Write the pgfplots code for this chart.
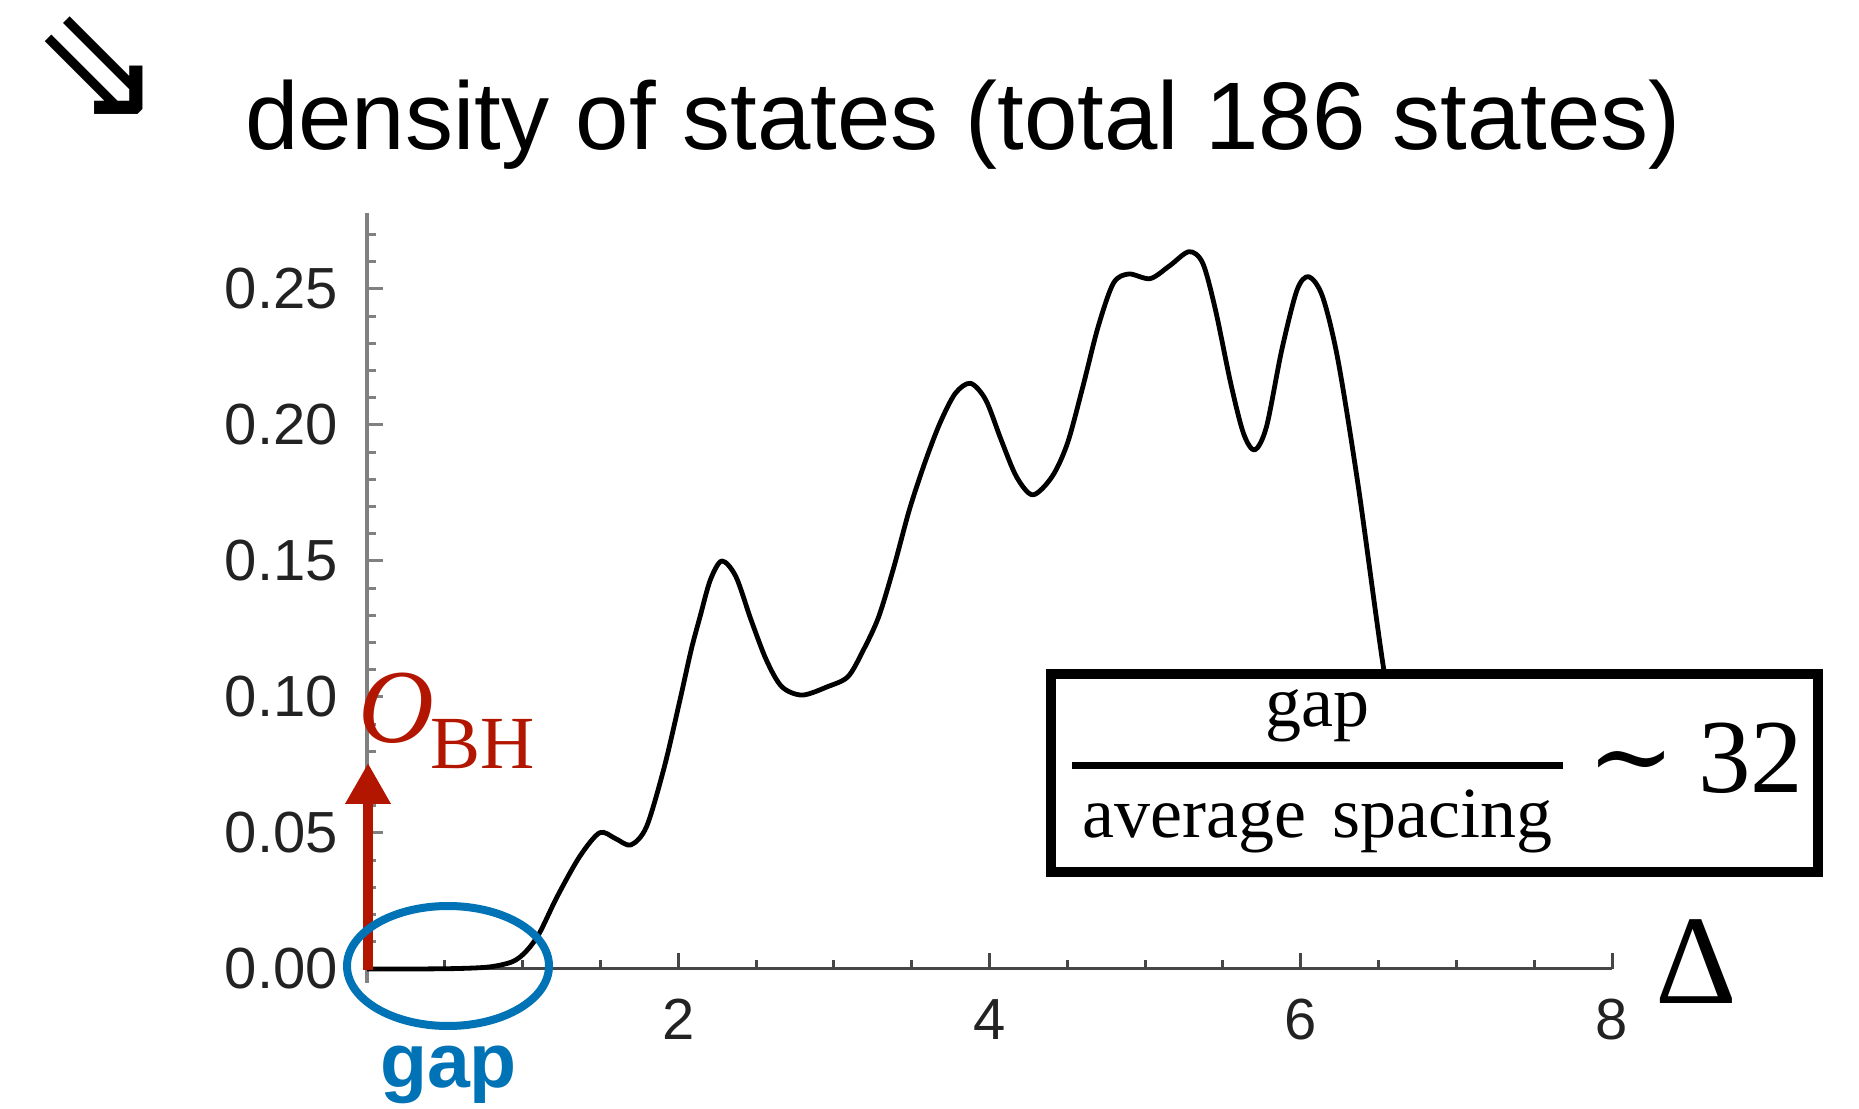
\documentclass[border=0pt]{standalone}
\usepackage{pgfplots}
\pgfplotsset{compat=1.18}
\usetikzlibrary{arrows.meta}
\usepackage{fontspec}
\setmainfont{Liberation Sans}
\newfontfamily\serif{Liberation Serif}
\newfontfamily\djs{DejaVu Sans}
\newfontfamily\djserif{DejaVu Serif}
\definecolor{obhred}{RGB}{178,22,0}
\definecolor{gapblue}{RGB}{0,114,182}
\definecolor{axgray}{RGB}{128,128,128}
\definecolor{axdark}{RGB}{70,70,70}
\definecolor{ticktext}{RGB}{34,34,34}
\begin{document}
\begin{tikzpicture}[x=1pt,y=1pt]
\useasboundingbox (0,0) rectangle (1859,1108);
\begin{axis}[
  at={(367pt,125.4pt)}, anchor=south west,
  scale only axis, width=1245pt, height=769.8pt,
  xmin=0, xmax=8, ymin=-0.005, ymax=0.278,
  axis x line=middle, axis y line=left,
  x axis line style={-, line width=3pt, color=axdark},
  y axis line style={-, line width=3.5pt, color=axgray},
  hide obscured x ticks=false, hide obscured y ticks=false,
  tick align=inside,
  major tick length=16pt, minor tick length=9pt,
  xtick={2,4,6,8}, xticklabels={2,4,6,8},
  minor xtick={0.5,1,1.5,2.5,3,3.5,4.5,5,5.5,6.5,7,7.5},
  ytick={0,0.05,0.1,0.15,0.2,0.25},
  yticklabels={0.00,0.05,0.10,0.15,0.20,0.25},
  minor ytick={0.01,0.02,0.03,0.04,0.06,0.07,0.08,0.09,0.11,0.12,0.13,0.14,0.16,0.17,0.18,0.19,0.21,0.22,0.23,0.24,0.26,0.27},
  xtick style={line width=3pt, color=axdark},
  ytick style={line width=3pt, color=axgray},
  tick label style={font=\fontsize{58}{60}\selectfont, text=ticktext, inner sep=0pt},
  yticklabel style={anchor=east, xshift=-29pt},
  xticklabel style={anchor=north, yshift=-30pt},
  clip=false,
]
\addplot[line width=4.8pt, black, smooth, line join=round] coordinates {
(0,0) (0.3,0) (0.6,0.0002) (0.792,0.0008) (0.935,0.0027) (1.021,0.0064) (1.107,0.0131)
(1.222,0.0266) (1.366,0.0413) (1.495,0.0501) (1.595,0.048) (1.695,0.0456) (1.796,0.0523)
(1.911,0.0744) (2.011,0.0989) (2.083,0.1173) (2.14,0.1295) (2.206,0.143) (2.28,0.150)
(2.37,0.1443) (2.468,0.1283) (2.566,0.1136) (2.665,0.1038) (2.796,0.1007) (2.96,0.1038)
(3.091,0.1075) (3.19,0.1173) (3.288,0.1295) (3.386,0.1479) (3.485,0.1688) (3.583,0.1859)
(3.681,0.2006) (3.78,0.2116) (3.878,0.2153) (3.976,0.2092) (4.075,0.1945) (4.173,0.181)
(4.278,0.1743) (4.402,0.181) (4.501,0.1933) (4.6,0.2141) (4.698,0.2361) (4.796,0.2521)
(4.895,0.2555) (5.032,0.2538) (5.157,0.2585) (5.282,0.2637) (5.37,0.2595) (5.452,0.2423)
(5.55,0.2153) (5.632,0.1969) (5.704,0.1908) (5.78,0.1994) (5.878,0.2276) (5.976,0.2496)
(6.052,0.2545) (6.14,0.2472) (6.239,0.2239) (6.37,0.1773) (6.534,0.1099) (6.62,0.088)
};
\end{axis}
% annotations
\draw[obhred, line width=10pt, -{Triangle[length=41pt,width=43pt]}] (368,138) -- (368,345);
\draw[gapblue, line width=8pt] (448,142) ellipse [x radius=101, y radius=60];
\node[anchor=base, inner sep=0pt, text=gapblue] at (448.5,21) {\bfseries\fontsize{77}{80}\selectfont gap};
\node[anchor=base west, inner sep=0pt, text=obhred] at (358,365) {\serif\itshape\fontsize{105}{110}\selectfont O};
\node[anchor=base west, inner sep=0pt, text=obhred] at (430,339) {\serif\fontsize{75}{80}\selectfont BH};
\node[anchor=base west, inner sep=0pt] at (245,958) {\fontsize{96}{100}\selectfont density of states (total 186 states)};
\node[inner sep=0pt] at (98,1040) {\djs\fontsize{160}{160}\selectfont ⇘};
\draw[line width=10pt, fill=white] (1051,434) rectangle (1818,236);
\draw[line width=7pt] (1072,342.5) -- (1563,342.5);
\node[anchor=base, inner sep=0pt] at (1317.5,381) {\serif\fontsize{72}{75}\selectfont gap};
\node[anchor=base, inner sep=0pt] at (1317.5,270) {\serif\fontsize{72}{75}\selectfont average\hspace{8pt} spacing};
\node[inner sep=0pt] at (1631,336) {\djserif\fontsize{105}{105}\selectfont ∼};
\node[anchor=base west, inner sep=0pt] at (1698,315) {\serif\fontsize{105}{110}\selectfont 32};
\node[anchor=base west, inner sep=0pt] at (1655,105) {\serif\fontsize{127}{130}\selectfont Δ};
\end{tikzpicture}
\end{document}
